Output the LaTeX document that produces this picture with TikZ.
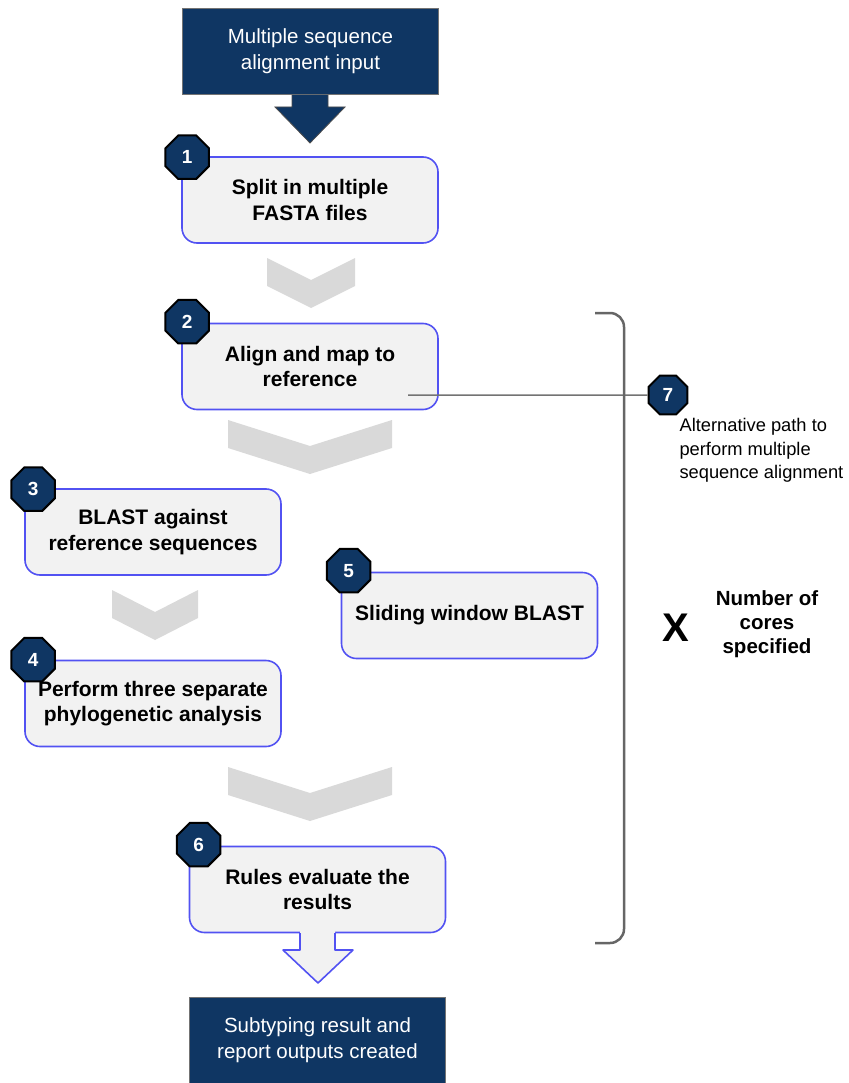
\documentclass[tikz,border=0pt]{standalone}
\usepackage{fontspec}
\setmainfont{Liberation Sans}
\usetikzlibrary{positioning,calc,shapes.geometric}
\definecolor{navy}{HTML}{0F3663}
\definecolor{stepblue}{HTML}{5252F2}
\definecolor{stepfill}{HTML}{F2F2F2}
\definecolor{chevgray}{HTML}{D9D9D9}
\tikzstyle{stepbox}=[draw=stepblue,fill=stepfill,line width=1.6pt,rounded corners=15pt,minimum width=256pt,minimum height=86pt,align=center,font=\fontsize{21}{25.5}\selectfont\bfseries]
\tikzstyle{iobox}=[fill=navy,draw=black!55,line width=0.6pt,minimum width=256pt,minimum height=86pt,align=center,text=white,font=\fontsize{20.5}{26}\selectfont]
\tikzstyle{badge}=[regular polygon,regular polygon sides=8,draw=black,line width=2pt,fill=navy,text=white,minimum size=47pt,inner sep=0pt,font=\fontsize{19}{19}\selectfont\bfseries]

\begin{document}
\begin{tikzpicture}[x=1pt,y=-1pt]
\useasboundingbox (0,0) rectangle (848,1083);

% main steps
\node [iobox] (input) at (310.5,51.5) {Multiple sequence\\alignment input};
\node [stepbox] (split) at (310,200) {Split in multiple\\FASTA files};
\node [stepbox] (align) at (310,366.5) {Align and map to\\reference};
\node [stepbox] (blast) at (153,532) {BLAST against\\reference sequences};
\node [stepbox] (sliding) at (469.5,615.5) {Sliding window BLAST};
\node [stepbox] (phylo) at (153,703.5) {Perform three separate\\phylogenetic analysis};
\node [stepbox] (rules) at (317.5,889.5) {Rules evaluate the\\results};
\node [iobox,minimum height=86pt] (output) at (317.5,1040.5) {Subtyping result and\\report outputs created};

% numbers
\node [badge] (n1) at ($(split.north west)+(6,1)$) {1};
\node [badge] (n2) at ($(align.north west)+(6,-1)$) {2};
\node [badge] (n3) at ($(blast.north west)+(9,1)$) {3};
\node [badge] (n4) at ($(phylo.north west)+(9,0)$) {4};
\node [badge] (n5) at ($(sliding.north west)+(8,-1)$) {5};
\node [badge] (n6) at ($(rules.north west)+(10,-1)$) {6};
\node [badge,minimum size=42pt] (n7) at (668,395) {7};

% arrows between steps
\filldraw[fill=navy,draw=black!70,line width=0.8pt] (292,95) -- (292,107) -- (275,107) -- (310,143) -- (345,107) -- (328,107) -- (328,95);
\foreach \cx/\top/\hw/\dd in {311/258/44/22, 310/420/82/26, 155/590/43/22, 310/767/82/26}
  \fill[chevgray] (\cx-\hw,\top) -- (\cx,\top+\dd) -- (\cx+\hw,\top) -- (\cx+\hw,\top+28)
    -- (\cx,\top+28+\dd) -- (\cx-\hw,\top+28) -- cycle;
\fill[stepfill] (300,931) -- (300,950) -- (283,950) -- (318,983) -- (353,950) -- (335,950) -- (335,931) -- cycle;
\draw[stepblue,line width=1.6pt,line join=round] (300,933) -- (300,950) -- (283,950) -- (318,983) -- (353,950) -- (335,950) -- (335,933);

% alternative path
\coordinate (alt) at (408,395);
\draw[black!55,line width=1.5pt] (alt) -- (n7.west);
\node [anchor=north west,align=left,font=\fontsize{18.3}{23.5}\selectfont] (alttext) at (676,415) {Alternative path to\\perform multiple\\sequence alignment};

% bracket and cores
\draw[black!60,line width=2.5pt,rounded corners=14pt] (595,313) -- (624,313) -- (624,943) -- (595,943);
\node [font=\fontsize{40}{40}\selectfont\bfseries] (times) at (676,628) {X};
\node [align=center,font=\fontsize{20.5}{24}\selectfont\bfseries] (cores) at (767,624) {Number of\\cores\\specified};
\end{tikzpicture}
\end{document}
